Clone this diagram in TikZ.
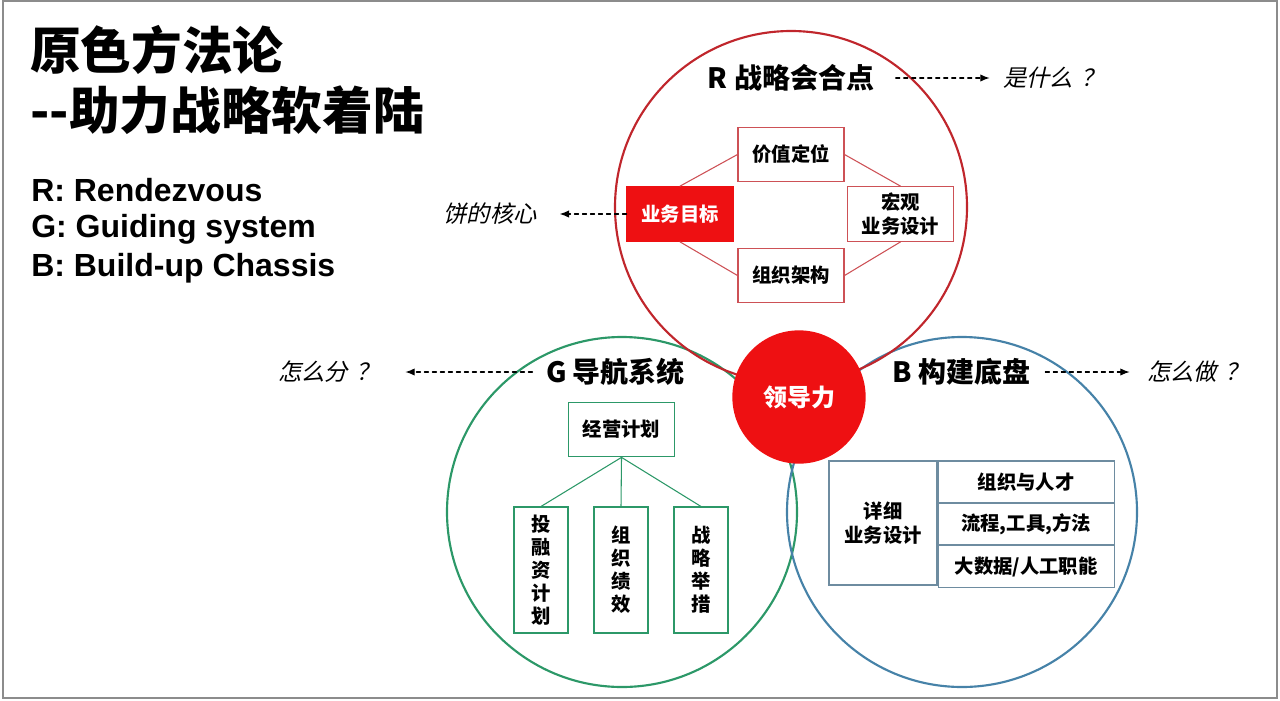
\documentclass[tikz,border=0pt]{standalone}
\usepackage{fontspec}
\setmainfont{Liberation Sans}
\newfontfamily\cjk{Noto Sans CJK SC}
\newfontfamily\cjkit{Noto Sans CJK SC}[FakeSlant=0.22]
\usetikzlibrary{arrows.meta}
\definecolor{ringred}{RGB}{192,38,44}
\definecolor{corered}{RGB}{238,16,18}
\definecolor{ringgreen}{RGB}{44,152,104}
\definecolor{ringblue}{RGB}{70,130,168}
\definecolor{tblue}{RGB}{110,140,160}
\definecolor{framegray}{RGB}{140,140,140}
\newcommand{\qm}{\hspace{0.35em}？}

\begin{document}
\begin{tikzpicture}[x=0.75pt, y=-0.75pt, line cap=round,
    ring/.style={line width=1.6pt},
    title/.style={font=\cjk\bfseries\fontsize{21}{25}\selectfont, inner sep=0pt},
    ask/.style={font=\cjkit\fontsize{17.5}{21}\selectfont, inner sep=0pt},
    darr/.style={dashed, line width=0.9pt, -{Latex[length=7pt,width=5.5pt]}},
    cell/.style={font=\cjk\bfseries\fontsize{14.5}{18}\selectfont, align=center, inner sep=0pt, line width=0.8pt, fill=white},
    rbox/.style={cell, draw=ringred!80, minimum width=79.5pt, minimum height=41pt},
    gbox/.style={cell, draw=ringgreen, minimum width=80pt, minimum height=41pt},
    gcol/.style={cell, draw=ringgreen, minimum width=40.5pt, minimum height=94.5pt, font=\cjk\bfseries\fontsize{14.5}{17.3}\selectfont},
    bbox/.style={cell, draw=tblue, minimum width=132pt, minimum height=31pt}]
    % 原色方法论: 三个圆 + 领导力
    \useasboundingbox (0,0) rectangle (1280,700);
    \draw[framegray, line width=1.2pt] (3,1) rectangle (1277,698);

    \coordinate (Rc) at (791,207);
    \coordinate (Gc) at (622,512);
    \coordinate (Bc) at (962,512);
    \draw[ring, ringgreen] (Gc) circle (175);
    \draw[ring, ringblue] (Bc) circle (175);
    \draw[ring, ringred] (Rc) circle (176);

    \node[anchor=west, inner sep=0pt, font=\cjk\bfseries\fontsize{38}{44}\selectfont] (head1) at (30,50) {原色方法论};
    \node[anchor=west, inner sep=0pt, font=\cjk\bfseries\fontsize{38}{44}\selectfont] (head2) at (30,110) {-{}-助力战略软着陆};
    \node[anchor=west, inner sep=0pt, font=\bfseries\fontsize{24}{28}\selectfont] (keyR) at (31,190) {R: Rendezvous};
    \node[anchor=west, inner sep=0pt, font=\bfseries\fontsize{24}{28}\selectfont] (keyG) at (31,229) {G: Guiding system};
    \node[anchor=west, inner sep=0pt, font=\bfseries\fontsize{24}{28}\selectfont] (keyB) at (31,268) {B: Build-up Chassis};

    \node[title] (Rt) at (791,78) {R 战略会合点};
    \node[ask, anchor=west] (Rq) at (1003,78) {是什么\qm};
    \draw[darr, shorten <=16pt, shorten >=10pt] (Rt) -- (Rq);

    \node[rbox] (value) at (791,154.5) {价值定位};
    \node[rbox, fill=corered, draw=corered, text=white] (aim) at (680,214) {业务目标};
    \node[rbox] (macro) at (900.5,214) {宏观\\业务设计};
    \node[rbox] (org) at (791,275.5) {组织架构};
    \draw[ringred!80, line width=0.8pt] (aim.north) -- (value.west) (value.east) -- (macro.north)
        (aim.south) -- (org.west) (org.east) -- (macro.south);
    \node[ask, anchor=east] (core) at (537,214) {饼的核心};
    \draw[darr, shorten >=17pt] (aim) -- (core);

    \node[title] (Gt) at (615.5,372) {G 导航系统};
    \node[ask, anchor=east] (Gq) at (380,372) {怎么分\qm};
    \draw[darr, shorten <=10pt, shorten >=19pt] (Gt) -- (Gq);

    \node[gbox] (plan) at (621.5,429.5) {经营计划};
    \node[gcol] (fund) at (541,570) {投\\融\\资\\计\\划};
    \node[gcol] (perf) at (621,570) {组\\织\\绩\\效};
    \node[gcol] (act) at (701,570) {战\\略\\举\\措};
    \foreach \n in {fund, perf, act}{
        \draw[ringgreen, line width=0.8pt] (plan.south) -- (\n.north);
    };

    \node[title] (Bt) at (961.5,372) {B 构建底盘};
    \node[ask, anchor=west] (Bq) at (1147,372) {怎么做\qm};
    \draw[darr, shorten <=11pt, shorten >=13pt] (Bt) -- (Bq);

    \node[cell, draw=tblue, minimum width=81pt, minimum height=93pt] (detail) at (883,523) {详细\\业务设计};
    \node[bbox, anchor=north west] (talent) at (detail.north east) {组织与人才};
    \node[bbox, anchor=north] (flow) at (talent.south) {流程,工具,方法};
    \node[bbox, anchor=north] (data) at (flow.south) {大数据/人工职能};

    \node[circle, fill=corered, minimum size=100pt, inner sep=0pt, text=white,
        font=\cjk\bfseries\fontsize{18}{22}\selectfont] (lead) at (799,397) {领导力};
\end{tikzpicture}
\end{document}
